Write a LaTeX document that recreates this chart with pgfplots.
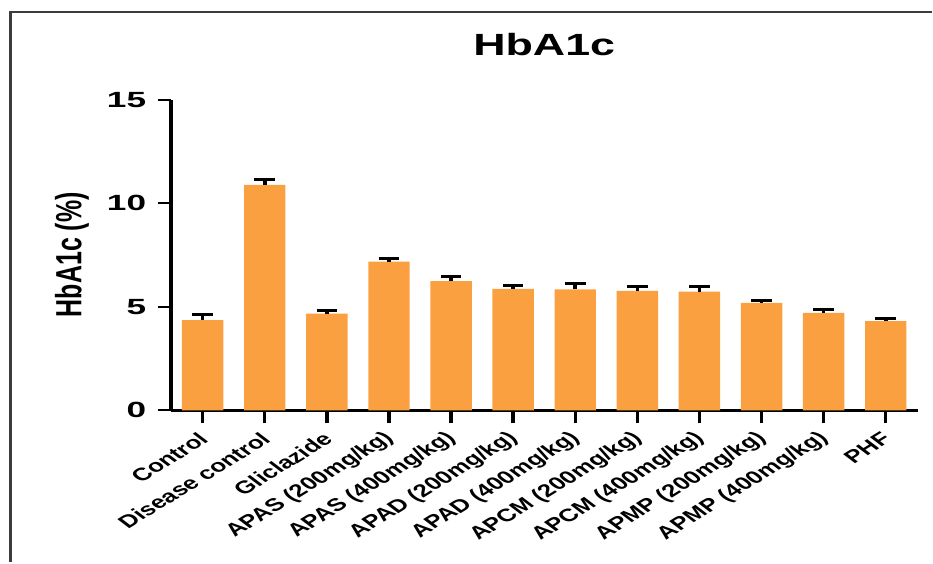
\documentclass[border=0pt]{standalone}
\usepackage{fontspec}
\setmainfont{Liberation Sans}
\usepackage{pgfplots}
\usepackage{pgfplotstable}
\pgfplotsset{compat=1.18}
\definecolor{barorange}{RGB}{251,160,64}
\definecolor{framegray}{RGB}{60,60,60}

% HbA1c (%) per group: mean and upper error
\pgfplotstableread{
x  y      e
0  4.36   0.27
1  10.89  0.25
2  4.68   0.16
3  7.19   0.14
4  6.24   0.21
5  5.87   0.16
6  5.84   0.27
7  5.77   0.22
8  5.74   0.23
9  5.19   0.11
10 4.71   0.16
11 4.31   0.14
}\hbaic

\begin{document}
\begin{tikzpicture}[x=1pt,y=1pt]
\path (0,0) rectangle (933,563);
\draw[line width=2.7pt, framegray] (10.7,0) -- (10.7,551) -- (933,551);
\begin{axis}[
  at={(171pt,152pt)}, anchor=south west,
  scale only axis, width=748pt, height=311pt,
  xmin=-0.514, xmax=11.514, ymin=0, ymax=15,
  axis x line*=bottom, axis y line*=left,
  x axis line style={line width=3pt, black, -},
  y axis line style={line width=3.8pt, black, -},
  every x tick/.style={line width=3.4pt, black},
  every y tick/.style={line width=2pt, black},
  major tick length=13pt, tick align=outside,
  xtick={0,...,11},
  xticklabels={Control, Disease control, Gliclazide,
    APAS (200mg/kg), APAS (400mg/kg), APAD (200mg/kg), APAD (400mg/kg),
    APCM (200mg/kg), APCM (400mg/kg), APMP (200mg/kg), APMP (400mg/kg), PHF},
  ytick={0,5,10,15},
  /pgf/number format/assume math mode=true,
  yticklabel style={font=\bfseries\fontsize{22}{22}\selectfont, xshift=-5pt, xscale=1.6, anchor=east, inner sep=4pt},
  xticklabel style={font=\bfseries\fontsize{17.8}{17.8}\selectfont, yshift=-12pt, xshift=2pt, xscale=1.46, rotate=42, anchor=east, inner sep=1pt},
  title={HbA1c},
  title style={at={(0.5,1)}, anchor=base, yshift=38.3pt, font=\bfseries\fontsize{30.7}{30.7}\selectfont, xscale=1.46},
]
\addplot[ybar, bar width=41.5pt, fill=barorange, draw=none,
  error bars/.cd, y dir=plus, y explicit,
  error bar style={line width=3.6pt, black},
  error mark options={line width=3pt, black, mark size=10.3pt, rotate=90}]
  table[x=x, y=y, y error=e] {\hbaic};
\end{axis}
\begin{scope}[shift={(72pt,308pt)}]
\node[font=\bfseries\fontsize{25}{25}\selectfont, xscale=1.46, rotate=90] at (0,0) {HbA1c (\%)};
\end{scope}
\end{tikzpicture}
\end{document}
